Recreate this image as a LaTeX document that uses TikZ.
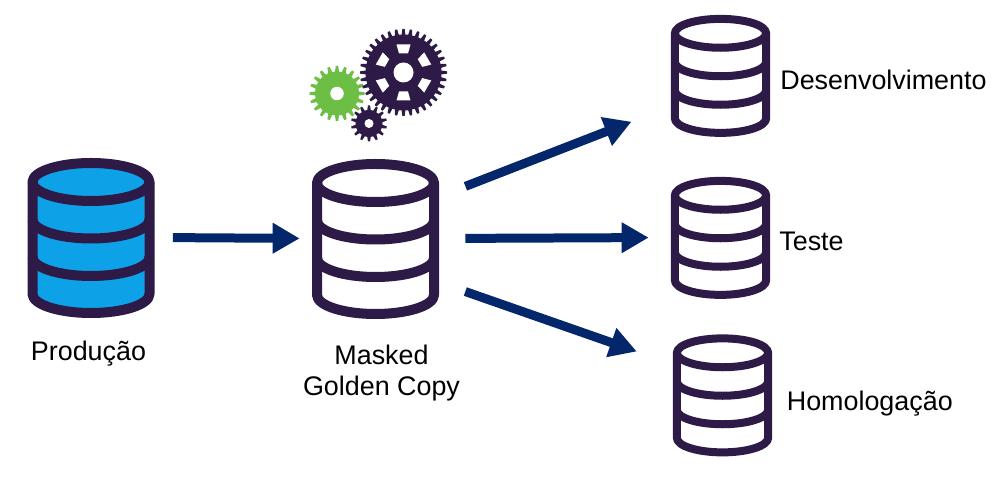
\documentclass[tikz,border=0pt]{standalone}
\usepackage{fontspec}
\setmainfont{Liberation Sans}
\usetikzlibrary{arrows.meta, calc}
\definecolor{dbInk}{RGB}{46,26,71}
\definecolor{dbBlue}{RGB}{13,162,231}
\definecolor{gearGreen}{RGB}{108,190,69}
\definecolor{flowNavy}{RGB}{4,38,107}

% one gear: colour, centre, root radius, tip radius, teeth, hole radius
\newcommand{\gearicon}[6]{
  \begin{scope}[shift={(#2)}]
    \fill[#1] (0,0) circle (#3);
    \foreach \t in {1,...,#5} {
      \fill[#1, rotate=\t*360/#5] (-180/#5*#3/90,#3-0.03) -- (-100/#5*#3/90,#4) -- (100/#5*#3/90,#4) -- (180/#5*#3/90,#3-0.03) -- cycle;
    }
    \fill[white] (0,0) circle (#6);
  \end{scope}
}

\tikzset{
  dbicon/.pic={
    \filldraw[pic actions, line join=round]
      (-1.17,1.11) -- (-1.17,-1.13) arc[start angle=180, end angle=360, x radius=1.17, y radius=0.38]
      -- (1.17,1.11) arc[start angle=0, end angle=180, x radius=1.17, y radius=0.38] -- cycle;
    \draw[pic actions, fill=none] (-1.17,1.11) arc[start angle=180, end angle=360, x radius=1.17, y radius=0.38];
    \draw[pic actions, fill=none] (-1.17,0.36) arc[start angle=180, end angle=360, x radius=1.17, y radius=0.38];
    \draw[pic actions, fill=none] (-1.17,-0.39) arc[start angle=180, end angle=360, x radius=1.17, y radius=0.38];
  },
  bigdb/.style={draw=dbInk, line width=0.2cm},
  smalldb/.style={draw=dbInk, fill=white, line width=0.16cm, xscale=0.78, yscale=0.76},
  dbbox/.style={inner sep=0pt, minimum width=2.54cm, minimum height=3.18cm},
  smallbox/.style={inner sep=0pt, minimum width=1.98cm, minimum height=2.42cm},
  txt/.style={font=\fontsize{15.3}{17.6}\selectfont, align=center, inner sep=0pt},
  flow/.style={-{Triangle[length=0.54cm, width=0.58cm]}, line width=0.18cm, draw=flowNavy}
}

\begin{document}
\begin{tikzpicture}
  \useasboundingbox (0,0) rectangle (20.06,9.56);

  \node[dbbox] (prod) at (1.82,4.81) {};
  \node[dbbox] (golden) at (7.51,4.79) {};
  \node[smallbox] (dev) at (14.41,8.05) {};
  \node[smallbox] (teste) at (14.41,4.81) {};
  \node[smallbox] (homolog) at (14.45,1.66) {};

  \pic[bigdb, fill=dbBlue] at (prod) {dbicon};
  \pic[bigdb, fill=white] at (golden) {dbicon};
  \pic[smalldb] at (dev) {dbicon};
  \pic[smalldb] at (teste) {dbicon};
  \pic[smalldb] at (homolog) {dbicon};

  % gears
  \gearicon{gearGreen}{6.74,7.69}{0.44}{0.55}{20}{0.135}
  \gearicon{dbInk}{8.07,8.11}{0.76}{0.87}{36}{0.2}
  \foreach \w in {0,60,...,300} {
    \fill[white, shift={(8.07,8.11)}, rotate=\w] (-0.09,0.38) -- (0.09,0.38) -- (0.14,0.56) -- (-0.14,0.56) -- cycle;
  }
  \gearicon{dbInk}{7.38,7.09}{0.27}{0.36}{14}{0.09}

  \node[txt] (prodlabel) at (1.77,2.48) {Produção};
  \node[txt] (goldenlabel) at (7.63,2.09) {Masked\\Golden Copy};
  \node[txt, anchor=west] (devlabel) at (15.6,7.96) {Desenvolvimento};
  \node[txt, anchor=west] (testelabel) at (15.58,4.74) {Teste};
  \node[txt, anchor=west] (homologlabel) at (15.73,1.48) {Homologação};

  \draw[flow, shorten <=0.36cm, shorten >=0.24cm] (prod.east) -- (golden.west);
  \draw[flow, shorten <=0.56cm, shorten >=0.84cm] ([yshift=0.84cm]golden.east) -- ([yshift=-0.62cm]dev.west);
  \draw[flow, shorten <=0.52cm, shorten >=0.44cm] (golden.east) -- (teste.west);
  \draw[flow, shorten <=0.55cm, shorten >=0.76cm] ([yshift=-0.88cm]golden.east) -- ([yshift=0.62cm]homolog.west);
\end{tikzpicture}
\end{document}
